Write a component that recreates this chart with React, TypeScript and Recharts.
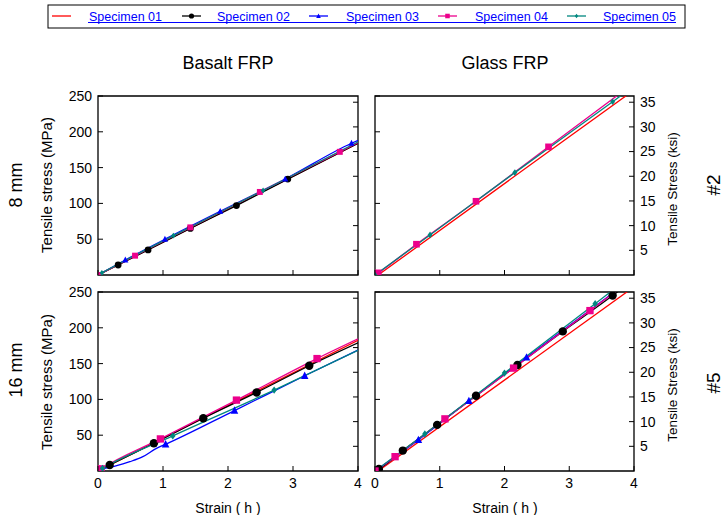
import React from "react";
import { LineChart, Line, XAxis, YAxis, ReferenceArea } from "recharts";

// [strain (h), tensile stress (MPa), 1 = marker drawn]
type Pt = [number, number, number?];

const SPECIMENS = ["Specimen 01", "Specimen 02", "Specimen 03", "Specimen 04", "Specimen 05"];
const COLORS = ["#FF0000", "#000000", "#0000FF", "#EC008C", "#00877F"];
const SHAPES = ["none", "circle", "triangle", "square", "diamond"];

const STRAIN_TICKS = [0, 1, 2, 3, 4];
const MPA_TICKS = [50, 100, 150, 200, 250];
const KSI_TICKS = [5, 10, 15, 20, 25, 30, 35];
const KSI_MAX = 250 / 6.8948;

// Basalt FRP, 8 mm
const basalt8Sp01: Pt[] = [[0, 0], [4, 184]];
const basalt8Sp02: Pt[] = [[0, 0], [0.31, 14, 1], [0.77, 35, 1], [1.42, 65, 1], [2.13, 97, 1], [2.92, 134, 1], [4, 184]];
const basalt8Sp03: Pt[] = [[0, 0], [0.42, 21, 1], [1.03, 50, 1], [1.88, 89, 1], [2.88, 134, 1], [3.9, 184, 1], [4, 188]];
const basalt8Sp04: Pt[] = [[0, 0, 1], [0.57, 27, 1], [1.42, 66.5, 1], [2.49, 116, 1], [3.72, 172, 1], [4, 185]];
const basalt8Sp05: Pt[] = [[0, 0], [0.06, 3, 1], [1.16, 55, 1], [2.54, 118, 1], [4, 186]];

// Glass FRP, #2
const glass2Sp01: Pt[] = [[0.05, 0], [2.7, 173.5], [3.95, 255]];
const glass2Sp04: Pt[] = [[0, 0], [0.05, 3, 1], [0.64, 43, 1], [1.56, 103, 1], [2.68, 179, 1], [3.85, 258]];
const glass2Sp05: Pt[] = [[0, 0, 1], [0.85, 56, 1], [2.16, 143, 1], [3.67, 242, 1], [3.85, 254]];

// Basalt FRP, 16 mm
const basalt16Sp01: Pt[] = [[0, 0], [4, 182.5]];
const basalt16Sp02: Pt[] = [[0, 0], [0.18, 8.4, 1], [0.86, 38.7, 1], [1.62, 73.7, 1], [2.44, 109.6, 1], [3.25, 147, 1], [4, 179]];
const basalt16Sp03: Pt[] = [[0, 0], [0.03, 1.4, 1], [0.23, 6], [0.49, 13], [0.69, 20], [0.9, 31.7], [1.04, 37.3, 1], [2.1, 84.4, 1], [3.18, 133, 1], [4, 169]];
const basalt16Sp04: Pt[] = [[0, 0], [0.05, 3, 1], [0.96, 44.8, 1], [2.13, 99, 1], [3.37, 157, 1], [4, 184.5]];
const basalt16Sp05: Pt[] = [[0, 0], [0.07, 3.7, 1], [1.15, 49, 1], [2.71, 113, 1], [4, 168.5]];

// Glass FRP, #5
const glass5Sp01: Pt[] = [[0.05, 0], [3.92, 252]];
const glass5Sp02: Pt[] = [[0, 0], [0.06, 2.8, 1], [0.43, 28.5, 1], [0.96, 64.4, 1], [1.56, 105, 1], [2.2, 148, 1], [2.9, 195, 1], [3.67, 245, 1], [3.8, 254]];
const glass5Sp03: Pt[] = [[0, 0, 1], [0.67, 43.4, 1], [1.45, 98, 1], [2.34, 158.6, 1], [3.77, 255]];
const glass5Sp04: Pt[] = [[0, 0, 1], [0.31, 20, 1], [1.08, 72.8, 1], [2.14, 143.7, 1], [3.32, 224, 1], [3.78, 255]];
const glass5Sp05: Pt[] = [[0, 0], [0.77, 51.8, 1], [2.0, 136.7, 1], [3.4, 233.7, 1], [3.65, 251]];

const FONT = "'Liberation Sans', Arial, Helvetica, sans-serif";
const PLOT_H = 179;
const SIDE = 45;

type Series = { sp: number; pts: Pt[] };

function Marker({ cx, cy, kind, color, s = 1 }: any) {
  if (kind === "circle") return <circle cx={cx} cy={cy} r={4 * s} fill={color} />;
  if (kind === "square") return <rect x={cx - 3.5 * s} y={cy - 3.5 * s} width={7 * s} height={7 * s} fill={color} />;
  if (kind === "triangle")
    return <polygon points={`${cx},${cy - 4 * s} ${cx - 3.6 * s},${cy + 3 * s} ${cx + 3.6 * s},${cy + 3 * s}`} fill={color} />;
  if (kind === "diamond")
    return <polygon points={`${cx},${cy - 3.5 * s} ${cx + 2.6 * s},${cy} ${cx},${cy + 3.5 * s} ${cx - 2.6 * s},${cy}`} fill={color} />;
  return <g />;
}

// tick mark drawn inward + optional label
function AxisTick({ x, y, payload, side, show }: any) {
  let mark;
  let label = null;
  const st = { fontFamily: FONT, fontSize: 14, fill: "#000" };
  if (side === "left") {
    mark = <line x1={x} x2={x + 5} y1={y} y2={y} stroke="#000" />;
    if (show) label = <text x={x - 6} y={y} dy="0.35em" textAnchor="end" style={st}>{payload.value}</text>;
  } else if (side === "right") {
    mark = <line x1={x - 5} x2={x} y1={y} y2={y} stroke="#000" />;
    if (show) label = <text x={x + 6} y={y} dy="0.35em" textAnchor="start" style={st}>{payload.value}</text>;
  } else {
    mark = <line x1={x} x2={x} y1={y - 5} y2={y} stroke="#000" />;
    if (show) label = <text x={x} y={y + 17} textAnchor="middle" style={st}>{payload.value}</text>;
  }
  return (
    <g>
      {mark}
      {label}
    </g>
  );
}

function Panel({ series, left, top, width, leftLabels, rightLabels, xLabels, ms }: any) {
  return (
    <div style={{ position: "absolute", left: left - SIDE, top: top - 10 }}>
      <LineChart width={width + 2 * SIDE} height={PLOT_H + 40} margin={{ top: 10, right: 0, bottom: 0, left: 0 }}>
        <XAxis
          type="number"
          dataKey="x"
          domain={[0, 4]}
          ticks={STRAIN_TICKS}
          allowDataOverflow
          height={30}
          interval={0}
          tickSize={0}
          tickMargin={0}
          axisLine={false}
          tickLine={false}
          tick={(p: any) => <AxisTick {...{ x: p.x, y: p.y, payload: p.payload }} side="bottom" show={xLabels} />}
        />
        <YAxis
          yAxisId="mpa"
          type="number"
          domain={[0, 250]}
          ticks={MPA_TICKS}
          allowDataOverflow
          width={SIDE}
          interval={0}
          tickSize={0}
          tickMargin={0}
          axisLine={false}
          tickLine={false}
          tick={(p: any) => <AxisTick {...{ x: p.x, y: p.y, payload: p.payload }} side="left" show={leftLabels} />}
        />
        <YAxis
          yAxisId="ksi"
          orientation="right"
          type="number"
          domain={[0, KSI_MAX]}
          ticks={KSI_TICKS}
          allowDataOverflow
          width={SIDE}
          interval={0}
          tickSize={0}
          tickMargin={0}
          axisLine={false}
          tickLine={false}
          tick={(p: any) => <AxisTick {...{ x: p.x, y: p.y, payload: p.payload }} side="right" show={rightLabels} />}
        />
        <ReferenceArea yAxisId="mpa" x1={0} x2={4} y1={0} y2={250} fill="none" fillOpacity={0} stroke="#000" strokeWidth={1.3} />
        {series.map((s: Series) => (
          <Line
            key={s.sp}
            yAxisId="mpa"
            type="monotone"
            data={s.pts.map((p) => ({ x: p[0], y: p[1], m: p[2] === 1 }))}
            dataKey="y"
            stroke={COLORS[s.sp]}
            strokeWidth={1.3}
            activeDot={false}
            isAnimationActive={false}
            dot={(d: any) =>
              d.payload.m ? (
                <Marker key={`m-${d.index}`} cx={d.cx} cy={d.cy} kind={SHAPES[s.sp]} color={COLORS[s.sp]} s={ms} />
              ) : (
                <g key={`m-${d.index}`} />
              )
            }
          />
        ))}
      </LineChart>
    </div>
  );
}

const LEGEND_X = [52, 182, 309, 438, 567];
const LEGEND_TEXT_X = [89, 217, 346, 475, 603];

function Labels() {
  const t = { fontFamily: FONT, fill: "#000" };
  const rot = (cx: number, cy: number, txt: string, size: number) => (
    <text
      x={cx}
      y={cy}
      transform={`rotate(-90 ${cx} ${cy})`}
      textAnchor="middle"
      dominantBaseline="central"
      style={{ ...t, fontSize: size }}
    >
      {txt}
    </text>
  );
  return (
    <svg width={722} height={515} style={{ position: "absolute", left: 0, top: 0 }}>
      {/* legend */}
      <rect x={48} y={5} width={637} height={23} fill="#fff" stroke="#000" strokeWidth={1} />
      <line x1={88} x2={676} y1={22.5} y2={22.5} stroke="#0000FF" strokeWidth={1} />
      {SPECIMENS.map((name, i) => (
        <g key={name}>
          <line x1={LEGEND_X[i]} x2={LEGEND_X[i] + 19} y1={16} y2={16} stroke={COLORS[i]} strokeWidth={1.3} />
          <Marker cx={LEGEND_X[i] + 9.5} cy={16} kind={SHAPES[i]} color={COLORS[i]} s={0.65} />
          <text x={LEGEND_TEXT_X[i]} y={20.5} style={{ fontFamily: FONT, fontSize: 12.5, fill: "#0000FF" }}>
            {name}
          </text>
        </g>
      ))}
      <text x={228} y={69} textAnchor="middle" style={{ ...t, fontSize: 18 }}>Basalt FRP</text>
      <text x={505} y={69} textAnchor="middle" style={{ ...t, fontSize: 18 }}>Glass FRP</text>
      {rot(16, 185, "8 mm", 18)}
      {rot(16, 370, "16 mm", 18)}
      {rot(46, 185, "Tensile stress (MPa)", 15)}
      {rot(46, 382, "Tensile stress (MPa)", 15)}
      {rot(672, 189, "Tensile Stress (ksi)", 13.5)}
      {rot(672, 385, "Tensile Stress (ksi)", 13.5)}
      {rot(713, 185, "#2", 19)}
      {rot(713, 383, "#5", 19)}
      <text x={228} y={513} textAnchor="middle" style={{ ...t, fontSize: 14 }}>Strain ( h )</text>
      <text x={505} y={513} textAnchor="middle" style={{ ...t, fontSize: 14 }}>Strain ( h )</text>
    </svg>
  );
}

const basalt8: Series[] = [basalt8Sp01, basalt8Sp02, basalt8Sp03, basalt8Sp04, basalt8Sp05].map((pts, sp) => ({ sp, pts }));
const glass2: Series[] = [
  { sp: 0, pts: glass2Sp01 },
  { sp: 3, pts: glass2Sp04 },
  { sp: 4, pts: glass2Sp05 },
];
const basalt16: Series[] = [basalt16Sp01, basalt16Sp02, basalt16Sp03, basalt16Sp04, basalt16Sp05].map((pts, sp) => ({ sp, pts }));
const glass5: Series[] = [glass5Sp01, glass5Sp02, glass5Sp03, glass5Sp04, glass5Sp05].map((pts, sp) => ({ sp, pts }));

export default function App() {
  return (
    <div style={{ position: "relative", width: 722, height: 515, background: "#fff", overflow: "hidden" }}>
      <style>{"body{margin:0}"}</style>
      <Labels />
      <Panel series={basalt8} left={98} top={96} width={260} leftLabels rightLabels={false} xLabels={false} ms={0.85} />
      <Panel series={glass2} left={375} top={96} width={259} leftLabels={false} rightLabels xLabels={false} ms={0.95} />
      <Panel series={basalt16} left={98} top={292} width={260} leftLabels rightLabels={false} xLabels ms={1.05} />
      <Panel series={glass5} left={375} top={292} width={259} leftLabels={false} rightLabels xLabels ms={1.05} />
    </div>
  );
}
